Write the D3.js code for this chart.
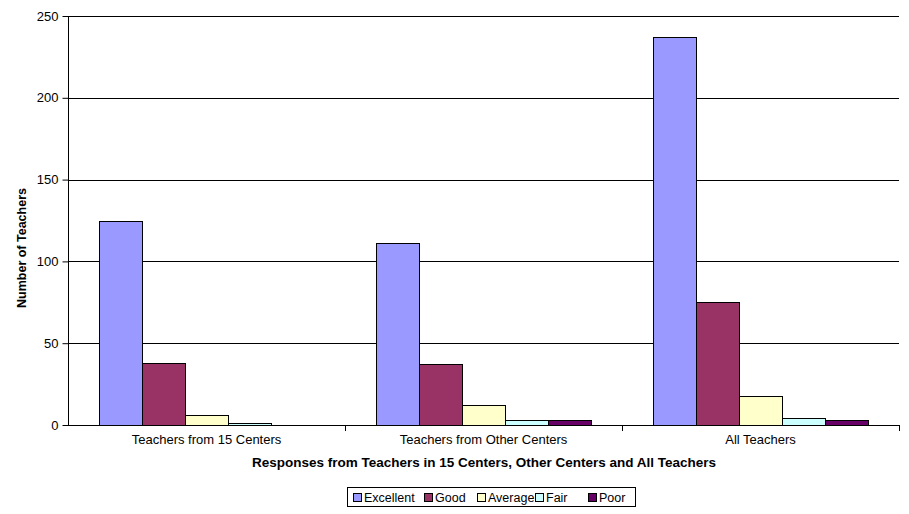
<!DOCTYPE html>
<html><head><meta charset="utf-8">
<script src="https://cdn.jsdelivr.net/npm/d3@7"></script>
<style>body{margin:0;background:#fff}svg{display:block}text{font-family:"Liberation Sans",Arial,sans-serif}</style>
</head><body><svg id="c" width="909" height="514"></svg>
<script>
const categories = ["Teachers from 15 Centers", "Teachers from Other Centers", "All Teachers"];
const seriesNames = ["Excellent", "Good", "Average", "Fair", "Poor"];
const excellent = [125, 111, 237];
const good = [38, 37, 75];
const average = [6, 12, 18];
const fair = [1, 3, 4];
const poor = [0, 3, 3];
const yTicks = [0, 50, 100, 150, 200, 250];
const colors = ["#9999FF", "#993366", "#FFFFCC", "#CCFFFF", "#660066"];
const seriesValues = [excellent, good, average, fair, poor];

const svg = d3.select("#c");
const m = {l: 68, r: 899, t: 16, b: 425};
const x = d3.scaleBand().domain(categories).range([m.l, m.r]).paddingInner(0).paddingOuter(0);
const y = d3.scaleLinear().domain([0, 250]).range([m.b, m.t]);
const inner = d3.scaleBand().domain(seriesNames).range([0, x.bandwidth()]).paddingInner(0).paddingOuter(0.72);

// gridlines
svg.append("g").selectAll("line").data(yTicks.filter(d => d > 0)).join("line")
  .attr("x1", m.l).attr("x2", m.r).attr("y1", d => Math.round(y(d)) + 0.5).attr("y2", d => Math.round(y(d)) + 0.5)
  .attr("stroke", "#000").attr("stroke-width", 1);

// bars
categories.forEach((c, ci) => {
  seriesNames.forEach((s, si) => {
    const v = seriesValues[si][ci];
    if (v <= 0) return;
    svg.append("rect")
      .attr("x", Math.round(x(c) + inner(s)) + 0.5).attr("width", Math.round(inner.bandwidth()))
      .attr("y", Math.round(y(v)) + 0.5).attr("height", Math.round(y(0)) - Math.round(y(v)))
      .attr("fill", colors[si]).attr("stroke", "#000").attr("stroke-width", 1);
  });
});

// y axis
const ya = d3.axisLeft(y).tickValues(yTicks).tickSize(6).tickPadding(4);
const yg = svg.append("g").attr("transform", `translate(${m.l + 0.5},0)`).call(ya);
yg.select(".domain").attr("stroke", "#000").attr("d", `M0,${m.t}V${m.b}`);
yg.selectAll("text").attr("font-size", 13).attr("fill", "#000");
yg.selectAll(".tick line").attr("stroke", "#000");

// x axis
const xa = d3.axisBottom(x).tickSize(0).tickPadding(9);
const xg = svg.append("g").attr("transform", `translate(0,${m.b + 0.5})`).call(xa);
xg.select(".domain").attr("stroke", "#000").attr("d", `M${m.l},0H${m.r}`);
xg.selectAll("text").attr("font-size", 13).attr("fill", "#000").attr("dy", "0.71em");
svg.append("g").selectAll("line").data(categories).join("line")
  .attr("x1", d => Math.round(x(d) + x.bandwidth()) + 0.5).attr("x2", d => Math.round(x(d) + x.bandwidth()) + 0.5)
  .attr("y1", m.b).attr("y2", m.b + 6).attr("stroke", "#000");

// axis titles
svg.append("text").attr("x", 484).attr("y", 467).attr("text-anchor", "middle")
  .attr("font-size", 13.5).attr("font-weight", "bold").text("Responses from Teachers in 15 Centers, Other Centers and All Teachers");
svg.append("text").attr("transform", `translate(26,248) rotate(-90)`).attr("text-anchor", "middle")
  .attr("font-size", 12.5).attr("font-weight", "bold").text("Number of Teachers");

// legend
const lg = svg.append("g");
lg.append("rect").attr("x", 347.5).attr("y", 487.5).attr("width", 288).attr("height", 19)
  .attr("fill", "#fff").attr("stroke", "#000");
const legX = [353, 424, 477, 535, 588];
seriesNames.forEach((s, i) => {
  lg.append("rect").attr("x", legX[i] + 0.5).attr("y", 493.5).attr("width", 8).attr("height", 8)
    .attr("fill", colors[i]).attr("stroke", "#000");
  lg.append("text").attr("x", legX[i] + 11).attr("y", 502).attr("font-size", 12.5).text(s);
});
</script></body></html>
